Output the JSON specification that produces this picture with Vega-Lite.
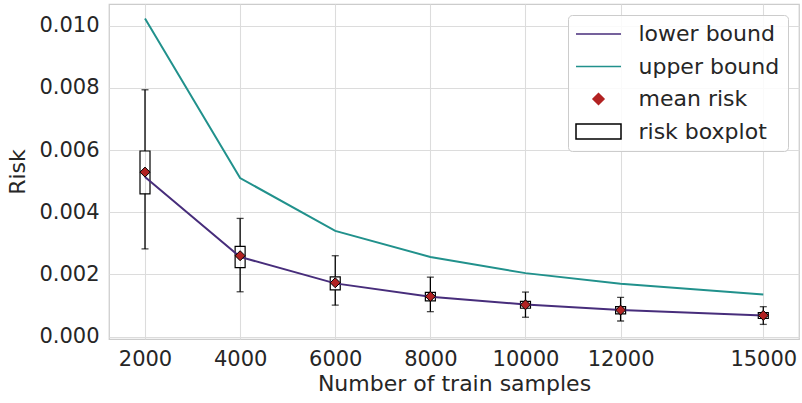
{
  "$schema": "https://vega.github.io/schema/vega-lite/v6.json",
  "width": 690,
  "height": 335,
  "autosize": "none",
  "padding": {"left": 109, "top": 4, "right": 3, "bottom": 64},
  "background": "white",
  "config": {
    "font": "DejaVu Sans",
    "view": {"stroke": "#cccccc", "strokeWidth": 1.25},
    "axis": {
      "labelFont": "DejaVu Sans",
      "titleFont": "DejaVu Sans",
      "labelFontSize": 21,
      "titleFontSize": 22,
      "labelColor": "#262626",
      "titleColor": "#262626",
      "titleFontWeight": "normal",
      "ticks": false,
      "tickSize": 0,
      "domain": false,
      "gridColor": "#dcdcdc",
      "gridWidth": 1.1
    },
    "legend": {
      "labelFont": "DejaVu Sans",
      "labelFontSize": 22,
      "labelColor": "#262626"
    }
  },
  "datasets": {
    "bounds": [
      {"n": 2000, "series": "lower bound", "risk": 0.00513},
      {"n": 4000, "series": "lower bound", "risk": 0.00256},
      {"n": 6000, "series": "lower bound", "risk": 0.00171},
      {"n": 8000, "series": "lower bound", "risk": 0.00128},
      {"n": 10000, "series": "lower bound", "risk": 0.00103},
      {"n": 12000, "series": "lower bound", "risk": 0.00085},
      {"n": 15000, "series": "lower bound", "risk": 0.00068},
      {"n": 2000, "series": "upper bound", "risk": 0.01023},
      {"n": 4000, "series": "upper bound", "risk": 0.0051},
      {"n": 6000, "series": "upper bound", "risk": 0.0034},
      {"n": 8000, "series": "upper bound", "risk": 0.00256},
      {"n": 10000, "series": "upper bound", "risk": 0.00204},
      {"n": 12000, "series": "upper bound", "risk": 0.0017},
      {"n": 15000, "series": "upper bound", "risk": 0.00135}
    ],
    "boxes": [
      {"n": 2000, "wlo": 0.00282, "q1": 0.00459, "median": 0.00526, "q3": 0.00597, "whi": 0.00794, "mean": 0.00529},
      {"n": 4000, "wlo": 0.00144, "q1": 0.00222, "median": 0.0026, "q3": 0.0029, "whi": 0.0038, "mean": 0.0026},
      {"n": 6000, "wlo": 0.00101, "q1": 0.0015, "median": 0.00172, "q3": 0.00192, "whi": 0.0026, "mean": 0.00173},
      {"n": 8000, "wlo": 0.0008, "q1": 0.00115, "median": 0.00129, "q3": 0.00142, "whi": 0.00191, "mean": 0.00129},
      {"n": 10000, "wlo": 0.00062, "q1": 0.00091, "median": 0.00102, "q3": 0.00113, "whi": 0.00143, "mean": 0.00102},
      {"n": 12000, "wlo": 0.0005, "q1": 0.00073, "median": 0.00085, "q3": 0.00096, "whi": 0.00126, "mean": 0.00085},
      {"n": 15000, "wlo": 0.00039, "q1": 0.00058, "median": 0.00068, "q3": 0.00077, "whi": 0.00096, "mean": 0.00068}
    ],
    "legend": [
      {"series": "lower bound"},
      {"series": "upper bound"},
      {"series": "mean risk"},
      {"series": "risk boxplot"}
    ]
  },
  "encoding": {
    "x": {
      "field": "n",
      "type": "quantitative",
      "scale": {"domain": [1243, 15751], "nice": false, "zero": false, "padding": 0},
      "axis": {
        "values": [2000, 4000, 6000, 8000, 10000, 12000, 15000],
        "format": "d",
        "labelPadding": 9,
        "title": "Number of train samples",
        "titlePadding": 4
      }
    }
  },
  "layer": [
    {
      "data": {"name": "boxes"},
      "mark": {"type": "rule", "color": "black", "strokeWidth": 1.3},
      "encoding": {
        "y": {
          "field": "wlo",
          "type": "quantitative",
          "scale": {"domain": [-0.00008, 0.0107], "nice": false, "zero": false, "padding": 0},
          "axis": {
            "values": [0, 0.002, 0.004, 0.006, 0.008, 0.01],
            "format": ".3f",
            "labelPadding": 10,
            "title": "Risk",
            "titlePadding": 9
          }
        },
        "y2": {"field": "q1"}
      }
    },
    {
      "data": {"name": "boxes"},
      "mark": {"type": "rule", "color": "black", "strokeWidth": 1.3},
      "encoding": {
        "y": {"field": "q3", "type": "quantitative"},
        "y2": {"field": "whi"}
      }
    },
    {
      "data": {"name": "boxes"},
      "mark": {"type": "tick", "orient": "horizontal", "color": "black", "size": 7, "thickness": 1.3},
      "encoding": {"y": {"field": "wlo", "type": "quantitative"}}
    },
    {
      "data": {"name": "boxes"},
      "mark": {"type": "tick", "orient": "horizontal", "color": "black", "size": 7, "thickness": 1.3},
      "encoding": {"y": {"field": "whi", "type": "quantitative"}}
    },
    {
      "data": {"name": "boxes"},
      "mark": {"type": "bar", "fill": null, "fillOpacity": 0, "stroke": "black", "strokeWidth": 1.2, "width": 10},
      "encoding": {
        "y": {"field": "q1", "type": "quantitative"},
        "y2": {"field": "q3"}
      }
    },
    {
      "data": {"name": "bounds"},
      "mark": {"type": "line", "strokeWidth": 2},
      "encoding": {
        "y": {"field": "risk", "type": "quantitative"},
        "detail": {"field": "series"},
        "color": {
          "field": "series",
          "type": "nominal",
          "scale": {"domain": ["lower bound", "upper bound"], "range": ["#472d7b", "#21918c"]},
          "legend": null
        }
      }
    },
    {
      "data": {"name": "boxes"},
      "mark": {"type": "point", "shape": "diamond", "filled": true, "fill": "#b22222", "stroke": "black", "strokeWidth": 1, "size": 100, "opacity": 1},
      "encoding": {"y": {"field": "mean", "type": "quantitative"}}
    },
    {
      "data": {"name": "legend"},
      "mark": {"type": "point", "filled": true, "opacity": 0},
      "encoding": {
        "x": {"value": 0},
        "y": {"value": 0},
        "shape": {
          "field": "series",
          "type": "nominal",
          "scale": {
            "domain": ["lower bound", "upper bound", "mean risk", "risk boxplot"],
            "range": ["M-2.25,0H2.25", "M-2.25,0H2.25", "M0,-0.55L0.55,0L0,0.55L-0.55,0Z", "M-2.25,-0.75H2.25V0.75H-2.25Z"]
          },
          "legend": {
            "title": null,
            "orient": "top-right",
            "offset": 11,
            "padding": 8,
            "fillColor": "rgba(255,255,255,0.85)",
            "strokeColor": "#cccccc",
            "cornerRadius": 4,
            "symbolSize": 400,
            "symbolStrokeWidth": 1.5,
            "symbolOffset": 11.5,
            "labelOffset": 29,
            "rowPadding": 10.5,
            "symbolOpacity": 1,
            "labelFontSize": 22
          }
        },
        "fill": {
          "field": "series",
          "type": "nominal",
          "scale": {
            "domain": ["lower bound", "upper bound", "mean risk", "risk boxplot"],
            "range": ["#472d7b", "#21918c", "#b22222", "white"]
          }
        },
        "stroke": {
          "field": "series",
          "type": "nominal",
          "scale": {
            "domain": ["lower bound", "upper bound", "mean risk", "risk boxplot"],
            "range": ["#472d7b", "#21918c", "#b22222", "black"]
          }
        }
      }
    }
  ]
}
